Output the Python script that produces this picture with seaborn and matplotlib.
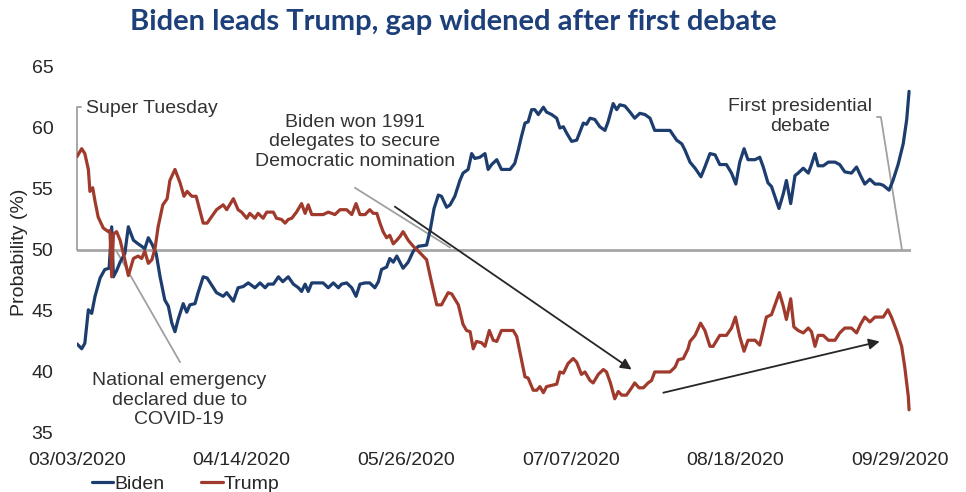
import matplotlib
matplotlib.use("Agg")
import matplotlib.pyplot as plt
import seaborn as sns
import pandas as pd

# (days since 03/03/2020, probability %)
biden_points = [
    (0, 42.3), (1.2, 41.9), (2.0, 42.35), (2.9, 45.1), (3.75, 44.8), (4.6, 46.2), (5.9, 47.7),
    (7.1, 48.4), (8.2, 48.5), (8.85, 51.9), (9.3, 47.8), (10.1, 48.3), (11.0, 49.0), (12.2, 49.7),
    (13.1, 51.9), (14.4, 50.8), (15.6, 50.5), (16.5, 50.3), (17.3, 50.1), (18.2, 51.0), (19.1, 50.5),
    (20.2, 49.7), (21.2, 47.8), (22.4, 45.9), (23.3, 45.4), (24.2, 44.0), (25.0, 43.3), (25.8, 44.3),
    (27.1, 45.6), (28.0, 44.9), (28.8, 45.5), (30.1, 45.6), (30.9, 46.5), (32.2, 47.8), (33.2, 47.7),
    (35.6, 46.5), (37.3, 46.2), (38.2, 46.5), (39.9, 45.8), (41.1, 46.9), (42.4, 47.0), (43.7, 47.3),
    (45.4, 46.9), (46.7, 47.3), (48.0, 46.9), (48.8, 47.2), (50.1, 47.2), (51.4, 47.8), (52.5, 47.4),
    (53.9, 47.8), (55.2, 47.2), (56.5, 46.9), (57.3, 46.6), (58.2, 47.2), (59.0, 46.6), (59.9, 47.3),
    (62.8, 47.3), (64.1, 46.9), (65.4, 47.3), (66.7, 46.9), (67.5, 47.2), (68.8, 47.3), (70.1, 46.9),
    (71.2, 46.2), (72.2, 47.2), (73.5, 47.3), (74.7, 47.3), (76.0, 46.9), (76.9, 47.4), (77.7, 48.4),
    (79.0, 48.6), (79.8, 49.3), (80.7, 49.0), (81.6, 49.5), (82.4, 49.0), (83.2, 48.5), (84.5, 49.0),
    (85.8, 49.9), (87.1, 50.3), (89.2, 50.4), (90.1, 51.6), (91.1, 53.4), (92.2, 54.5), (93.0, 54.4),
    (94.3, 53.5), (95.2, 53.7), (96.4, 54.4), (97.7, 55.7), (98.5, 56.3), (99.8, 56.6), (100.7, 57.9),
    (101.5, 57.5), (102.8, 57.6), (104.1, 57.9), (104.9, 56.6), (105.8, 57.0), (107.1, 57.4),
    (108.3, 56.6), (110.5, 56.6), (111.7, 57.1), (112.6, 58.2), (113.4, 59.3), (114.3, 60.4),
    (115.1, 60.5), (116.0, 61.5), (116.8, 61.5), (117.7, 61.1), (119.0, 61.7), (119.8, 61.3),
    (121.1, 61.1), (122.4, 60.8), (123.2, 60.0), (124.1, 60.1), (124.9, 59.6), (126.2, 58.9),
    (127.5, 59.0), (129.2, 60.4), (130.0, 60.3), (130.9, 60.8), (132.1, 60.7), (133.4, 60.1),
    (134.7, 59.8), (135.5, 60.5), (136.8, 62.0), (137.7, 61.5), (138.5, 61.9), (139.8, 61.8),
    (141.1, 61.3), (142.3, 60.8), (143.6, 61.2), (144.9, 61.1), (146.2, 60.8), (147.4, 59.8),
    (151.3, 59.8), (153.0, 59.0), (154.3, 58.7), (155.1, 58.2), (156.4, 57.2), (157.7, 56.7),
    (159.2, 56.0), (160.2, 56.8), (161.5, 57.9), (162.8, 57.8), (164.0, 57.0), (165.7, 57.0),
    (167.0, 56.3), (168.1, 55.4), (169.1, 57.2), (170.2, 58.3), (171.2, 57.4), (173.0, 57.4),
    (174.2, 57.6), (175.1, 56.8), (176.3, 55.5), (177.2, 55.2), (179.1, 53.4), (180.2, 54.6),
    (181.0, 55.7), (182.1, 53.8), (183.2, 56.1), (184.0, 56.3), (185.3, 56.7), (186.6, 56.3),
    (187.4, 57.0), (188.3, 57.9), (189.1, 56.9), (190.4, 56.9), (191.7, 57.2), (193.4, 57.2),
    (194.6, 57.0), (195.9, 56.4), (197.6, 56.3), (198.9, 56.8), (199.9, 56.1), (201.0, 55.4),
    (202.3, 55.8), (203.6, 55.4), (204.8, 55.4), (205.7, 55.3), (207.2, 54.9), (208.2, 55.7),
    (209.5, 57.0), (210.8, 58.7), (211.7, 60.7), (212.3, 63.0),
]

trump_points = [
    (0, 57.65), (1.2, 58.3), (2.0, 57.9), (2.9, 56.6), (3.3, 54.8), (4.0, 55.1), (4.6, 54.0),
    (5.4, 52.7), (6.7, 51.8), (8.0, 51.5), (8.4, 51.6), (8.85, 47.8), (9.3, 51.3), (10.1, 51.5),
    (11.0, 50.8), (12.0, 49.5), (13.1, 47.9), (14.4, 49.3), (15.6, 49.5), (16.5, 49.3), (17.3, 49.9),
    (18.2, 48.9), (19.1, 49.2), (19.9, 50.1), (20.7, 51.9), (21.9, 53.7), (23.0, 54.2), (23.7, 55.7),
    (25.0, 56.6), (26.3, 55.5), (27.3, 54.4), (28.1, 54.8), (29.3, 54.4), (30.4, 54.4), (32.2, 52.2),
    (33.2, 52.2), (35.6, 53.3), (37.3, 53.7), (38.2, 53.3), (39.9, 54.2), (41.1, 53.3), (42.0, 53.1),
    (43.3, 52.6), (44.1, 53.0), (45.4, 52.6), (46.2, 53.0), (47.5, 52.6), (48.4, 53.1), (50.1, 53.1),
    (50.9, 52.6), (52.2, 52.5), (53.1, 52.2), (53.9, 52.5), (54.8, 52.6), (56.0, 53.1), (57.3, 53.8),
    (58.2, 53.0), (59.0, 53.7), (59.9, 52.9), (62.8, 52.9), (64.1, 53.1), (65.0, 53.0), (65.8, 52.9),
    (67.1, 53.3), (68.8, 53.3), (70.1, 52.9), (71.2, 53.8), (72.2, 52.9), (73.5, 52.9), (74.7, 53.3),
    (75.6, 53.0), (76.5, 53.0), (77.3, 52.2), (78.1, 51.5), (79.0, 51.0), (79.8, 51.2), (80.7, 50.5),
    (81.6, 50.8), (82.4, 51.1), (83.2, 51.5), (84.5, 50.8), (85.8, 50.3), (87.1, 49.9), (88.3, 49.5),
    (89.2, 49.2), (90.5, 47.3), (91.8, 45.5), (93.0, 45.5), (94.7, 46.5), (95.6, 46.4), (97.3, 45.5),
    (98.5, 43.9), (99.4, 43.4), (100.3, 43.3), (101.1, 41.9), (101.9, 42.5), (103.2, 42.4),
    (104.1, 42.1), (105.2, 43.4), (106.2, 42.6), (107.1, 42.5), (108.3, 43.4), (111.3, 43.4),
    (112.2, 42.9), (113.4, 41.0), (114.3, 39.6), (115.1, 39.5), (116.4, 38.5), (117.3, 38.5),
    (118.1, 38.8), (119.0, 38.3), (119.8, 38.8), (121.1, 38.9), (122.4, 39.0), (123.2, 40.0),
    (124.1, 39.9), (125.3, 40.7), (126.6, 41.1), (127.5, 40.8), (128.7, 39.8), (129.6, 40.0),
    (130.9, 39.3), (131.7, 39.1), (133.0, 39.8), (134.3, 40.2), (135.1, 40.0), (136.1, 39.1),
    (137.2, 37.8), (138.1, 38.4), (139.0, 38.1), (140.2, 38.1), (141.5, 38.7), (142.3, 39.1),
    (143.4, 38.7), (144.5, 38.7), (145.7, 39.1), (146.6, 39.3), (147.4, 40.0), (151.3, 40.0),
    (152.6, 40.4), (153.4, 41.0), (154.7, 41.1), (155.9, 41.9), (156.4, 42.5), (157.7, 43.0),
    (159.1, 44.0), (160.2, 43.4), (161.5, 42.1), (162.3, 42.1), (164.0, 43.0), (165.7, 43.0),
    (167.0, 43.6), (168.0, 44.5), (169.1, 42.9), (170.2, 41.7), (171.2, 42.6), (173.0, 42.6),
    (174.2, 42.2), (175.9, 44.5), (177.2, 44.7), (179.2, 46.5), (180.2, 45.4), (181.0, 44.3),
    (182.1, 46.0), (182.9, 43.7), (184.0, 43.4), (185.3, 43.2), (186.6, 43.6), (187.4, 43.3),
    (188.3, 42.1), (189.1, 43.0), (190.4, 43.0), (191.7, 42.6), (193.4, 42.6), (194.6, 43.2),
    (195.9, 43.6), (197.6, 43.6), (198.9, 43.2), (199.9, 43.9), (201.0, 44.5), (202.3, 44.1),
    (203.6, 44.5), (205.7, 44.5), (206.9, 45.1), (207.8, 44.5), (209.1, 43.4), (210.4, 42.1),
    (211.2, 40.4), (212.1, 38.0), (212.3, 36.9),
]

start_date = pd.Timestamp("2020-03-03")
tick_days = [0, 42, 84, 126, 168, 210]
y_ticks = [35, 40, 45, 50, 55, 60, 65]

colors = {"Biden": "#1c3d6e", "Trump": "#a03a2c"}

rows = [{"day": d, "prob": v, "cand": "Biden"} for d, v in biden_points]
rows += [{"day": d, "prob": v, "cand": "Trump"} for d, v in trump_points]
df = pd.DataFrame(rows)

sns.set_theme(style="white")
plt.rcParams["font.family"] = ["Liberation Sans", "DejaVu Sans"]

fig = plt.figure(figsize=(9.66, 4.92), dpi=100)
ax = fig.add_axes([0.0797, 0.12, 0.8634, 0.7439])

ax.axhline(50, color="#a6a6a6", lw=2, zorder=1)
sns.lineplot(data=df, x="day", y="prob", hue="cand", palette=colors,
             estimator=None, sort=False, lw=2.3, ax=ax, zorder=3)

ax.set_xlim(0, 212.8)
ax.set_ylim(35, 65)
ax.set_xticks(tick_days)
ax.set_xticklabels([(start_date + pd.Timedelta(days=d)).strftime("%m/%d/%Y") for d in tick_days],
                   fontsize=14, color="#262626")
ax.set_yticks(y_ticks)
ax.set_yticklabels([str(v) for v in y_ticks], fontsize=14, color="#262626")
ax.tick_params(axis="x", length=0, pad=14)
ax.tick_params(axis="y", length=0, pad=17)
for s in ax.spines.values():
    s.set_visible(False)
ax.set_xlabel("")
ax.set_ylabel("")
fig.text(20 / 966, 1 - 252 / 492, "Probability (%)", rotation=90, ha="center", va="center",
         fontsize=14, color="#262626")

# annotations
gray = "#a0a0a0"
txt = "#333333"
ax.plot([1.0, 0.0, 0.0], [61.7, 61.7, 50], color=gray, lw=1.3, clip_on=False, zorder=2)
ax.text(2.3, 61.6, "Super Tuesday", ha="left", va="center", fontsize=14, color=txt)

ax.plot([9.9, 26.3], [50, 40.8], color=gray, lw=1.3, zorder=2)
ax.text(26.1, 37.7, "National emergency\ndeclared due to\nCOVID-19", ha="center", va="center",
        fontsize=14, color=txt, linespacing=1.2)

ax.plot([70.9, 95.2], [55.1, 50.2], color=gray, lw=1.3, zorder=2)
ax.text(70.9, 58.85, "Biden won 1991\ndelegates to secure\nDemocratic nomination", ha="center",
        va="center", fontsize=14, color=txt, linespacing=1.2)

ax.plot([204.1, 205.1, 210.5], [60.9, 60.9, 50], color=gray, lw=1.3, zorder=2)
ax.text(184.4, 60.94, "First presidential\ndebate", ha="center", va="center",
        fontsize=14, color=txt, linespacing=1.2)

arrow = dict(arrowstyle="-|>", color="#262626", lw=1.3, mutation_scale=16, shrinkA=0, shrinkB=0)
ax.annotate("", xy=(141.5, 40.2), xytext=(81.1, 53.55), arrowprops=arrow, zorder=4)
ax.annotate("", xy=(204.8, 42.5), xytext=(149.6, 38.3), arrowprops=arrow, zorder=4)

handles, labels = ax.get_legend_handles_labels()
ax.legend(handles, labels, loc="center left", bbox_to_anchor=(0.095, 0.016),
          bbox_transform=fig.transFigure, ncol=2, frameon=False, fontsize=14,
          handlelength=1.1, handletextpad=0.05, columnspacing=1.9, borderpad=0, borderaxespad=0)

fig.text(453 / 966, 1 - 22 / 492, "Biden leads Trump, gap widened after first debate",
         ha="center", va="center", fontsize=21, fontweight="bold", color="#1d3f7a",
         family=["Lato", "DejaVu Sans"])

fig.savefig("out.png", dpi=100)
